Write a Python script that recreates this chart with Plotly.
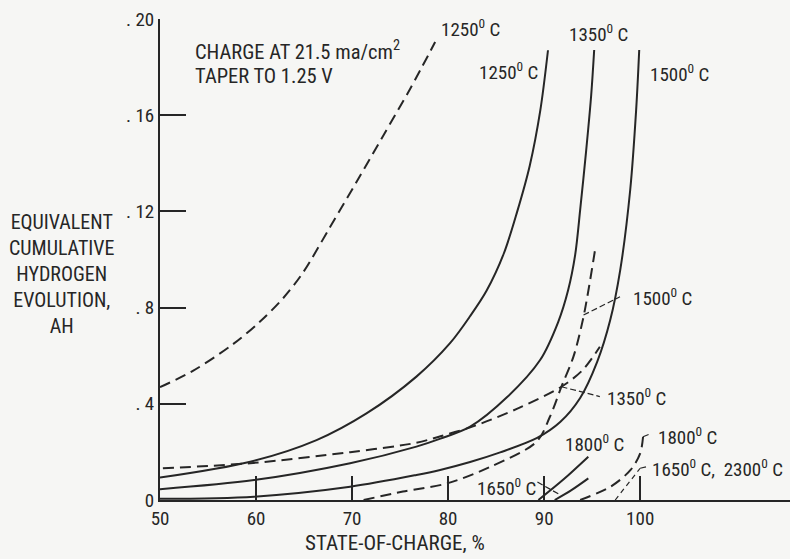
import plotly.graph_objects as go

# ---- data (state-of-charge %, equivalent cumulative hydrogen evolution AH) ----
s1250_x = [50.0, 59.4, 66.3, 71.5, 76.7, 80.2, 82.3, 84.0, 85.8, 87.2, 88.5, 89.6, 90.4]
s1250_y = [0.0093, 0.0159, 0.0249, 0.036, 0.0513, 0.0652, 0.0765, 0.087, 0.1025, 0.120, 0.139, 0.162, 0.187]

s1350_x = [50.0, 59.8, 69.8, 76.7, 79.2, 82.3, 86.15, 89.58, 91.46, 92.5, 93.23, 93.75, 94.38, 94.9, 95.21]
s1350_y = [0.0045, 0.0083, 0.0153, 0.0222, 0.0255, 0.0305, 0.0428, 0.0582, 0.074, 0.0873, 0.1019, 0.1206, 0.1455, 0.1684, 0.1871]

s1500_x = [50.0, 59.8, 69.8, 76.7, 79.17, 82.29, 85.42, 89.27, 91.67, 93.75, 95.52, 96.88, 97.92, 98.96, 99.58, 99.9]
s1500_y = [0.0005, 0.0014, 0.0055, 0.0104, 0.0125, 0.0158, 0.0198, 0.0258, 0.0324, 0.0424, 0.0574, 0.0748, 0.0956, 0.1289, 0.1622, 0.1871]

s1650_x = [91.1, 92.8, 94.6]
s1650_y = [0.0, 0.004, 0.009]

s1800_x = [89.4, 92.0, 94.6]
s1800_y = [0.0, 0.0085, 0.018]

d1250_x = [50.0, 53.47, 57.64, 60.42, 62.84, 64.93, 67.71, 70.52, 73.23, 76.04, 78.65]
d1250_y = [0.0469, 0.0538, 0.0649, 0.0742, 0.084, 0.0948, 0.1135, 0.1326, 0.1514, 0.1709, 0.1904]

d1350_x = [50.3, 59.4, 69.8, 76.7, 79.2, 82.3, 84.4, 87.5, 91.8, 94.0, 95.8]
d1350_y = [0.0132, 0.0153, 0.0199, 0.0238, 0.0265, 0.0302, 0.0333, 0.0385, 0.0471, 0.054, 0.0637]

d1500_x = [71.2, 75.3, 79.9, 84.4, 89.2, 90.6, 91.8, 93.05, 94.1, 95.3]
d1500_y = [0.0, 0.0035, 0.0069, 0.0138, 0.0242, 0.0346, 0.0471, 0.0596, 0.0762, 0.104]

d1800_x = [93.75, 96.9, 99.0, 100.0, 100.3]
d1800_y = [0.0, 0.0055, 0.0125, 0.0194, 0.0263]

d1650_2300_x = [97.4, 100.0]
d1650_2300_y = [0.0, 0.0132]

# leader lines (label -> curve)
leaders = [
    ([91.8, 95.8], [0.0471, 0.0430]),      # 1350 dashed
    ([94.1, 97.9], [0.0769, 0.0845]),      # 1500 dashed
    ([89.3, 91.5], [0.0075, 0.0025]),      # 1650 solid
    ([100.3, 100.9], [0.0263, 0.0273]),    # 1800 dashed
    ([100.0, 100.8], [0.0132, 0.0140]),    # 1650/2300 dashed
]

# labels: (text, x, y)
labels = [
    ("1250<sup>0</sup> C", 79.0, 0.196),
    ("1250<sup>0</sup> C", 83.0, 0.178),
    ("1350<sup>0</sup> C", 92.4, 0.194),
    ("1500<sup>0</sup> C", 100.8, 0.1775),
    ("1500<sup>0</sup> C", 99.0, 0.084),
    ("1350<sup>0</sup> C", 96.35, 0.0428),
    ("1800<sup>0</sup> C", 92.0, 0.0237),
    ("1800<sup>0</sup> C", 101.6, 0.0262),
    ("1650<sup>0</sup> C,  2300<sup>0</sup> C", 101.0, 0.0133),
    ("1650<sup>0</sup> C", 82.8, 0.0054),
]

x_ticks = [50, 60, 70, 80, 90, 100]
y_ticks = [0, 0.04, 0.08, 0.12, 0.16, 0.20]
y_ticktext = ["0", ". 4", ". 8", ". 12", ". 16", ". 20"]

INK = "#262626"
BG = "#f6f6f4"
FONT = "Liberation Sans Narrow, Roboto Condensed, DejaVu Sans Condensed, Liberation Sans, sans-serif"

fig = go.Figure()

def add(x, y, dash=None, width=2.0):
    fig.add_trace(go.Scatter(
        x=x, y=y, mode="lines",
        line=dict(color=INK, width=width, dash=dash, shape="spline", smoothing=0.9),
        hoverinfo="skip", showlegend=False))

for xs, ys in [(s1250_x, s1250_y), (s1350_x, s1350_y), (s1500_x, s1500_y),
               (s1650_x, s1650_y), (s1800_x, s1800_y)]:
    add(xs, ys)
for xs, ys in [(d1250_x, d1250_y), (d1350_x, d1350_y), (d1500_x, d1500_y), (d1800_x, d1800_y)]:
    add(xs, ys, dash="11px,6px", width=2.0)
add(d1650_2300_x, d1650_2300_y, dash="5px,4px", width=1.2)
for xs, ys in leaders:
    fig.add_trace(go.Scatter(x=xs, y=ys, mode="lines",
                             line=dict(color=INK, width=1.2, dash="6px,3px"),
                             hoverinfo="skip", showlegend=False))

for t, x, y in labels:
    fig.add_annotation(x=x, y=y, text=t, showarrow=False, xanchor="left", yanchor="middle",
                       font=dict(size=19, color=INK, family=FONT))

fig.add_annotation(x=53.4, y=0.1867, text="CHARGE AT 21.5 ma/cm<sup>2</sup>", showarrow=False,
                   xanchor="left", yanchor="middle", font=dict(size=20.5, color=INK, family=FONT))
fig.add_annotation(x=53.4, y=0.1763, text="TAPER TO 1.25 V", showarrow=False,
                   xanchor="left", yanchor="middle", font=dict(size=20.5, color=INK, family=FONT))

fig.add_annotation(xref="paper", yref="paper", x=-0.157, y=0.469,
                   text="EQUIVALENT<br>CUMULATIVE<br>HYDROGEN<br>EVOLUTION,<br>AH",
                   showarrow=False, xanchor="center", yanchor="middle", align="center",
                   font=dict(size=20, color=INK, family=FONT))
fig.add_annotation(xref="paper", yref="paper", x=0.373, y=-0.089,
                   text="STATE-OF-CHARGE, %", showarrow=False, xanchor="center", yanchor="middle",
                   font=dict(size=21, color=INK, family=FONT))

fig.update_xaxes(range=[50, 115.6], tickvals=x_ticks, ticktext=[str(v) for v in x_ticks],
                 ticks="inside", ticklen=24, tickwidth=2, tickcolor=INK,
                 showline=True, linecolor=INK, linewidth=2, showgrid=False, zeroline=False,
                 tickfont=dict(size=19, color=INK, family=FONT))
fig.update_yaxes(range=[0, 0.2], tickvals=y_ticks, ticktext=y_ticktext,
                 ticks="inside", ticklen=26, tickwidth=2, tickcolor=INK,
                 showline=True, linecolor=INK, linewidth=2, showgrid=False, zeroline=False,
                 tickfont=dict(size=19, color=INK, family=FONT))

fig.update_layout(width=790, height=559, margin=dict(l=160, r=0, t=19, b=59),
                  paper_bgcolor=BG, plot_bgcolor=BG, showlegend=False)

fig.write_html("out.html")
